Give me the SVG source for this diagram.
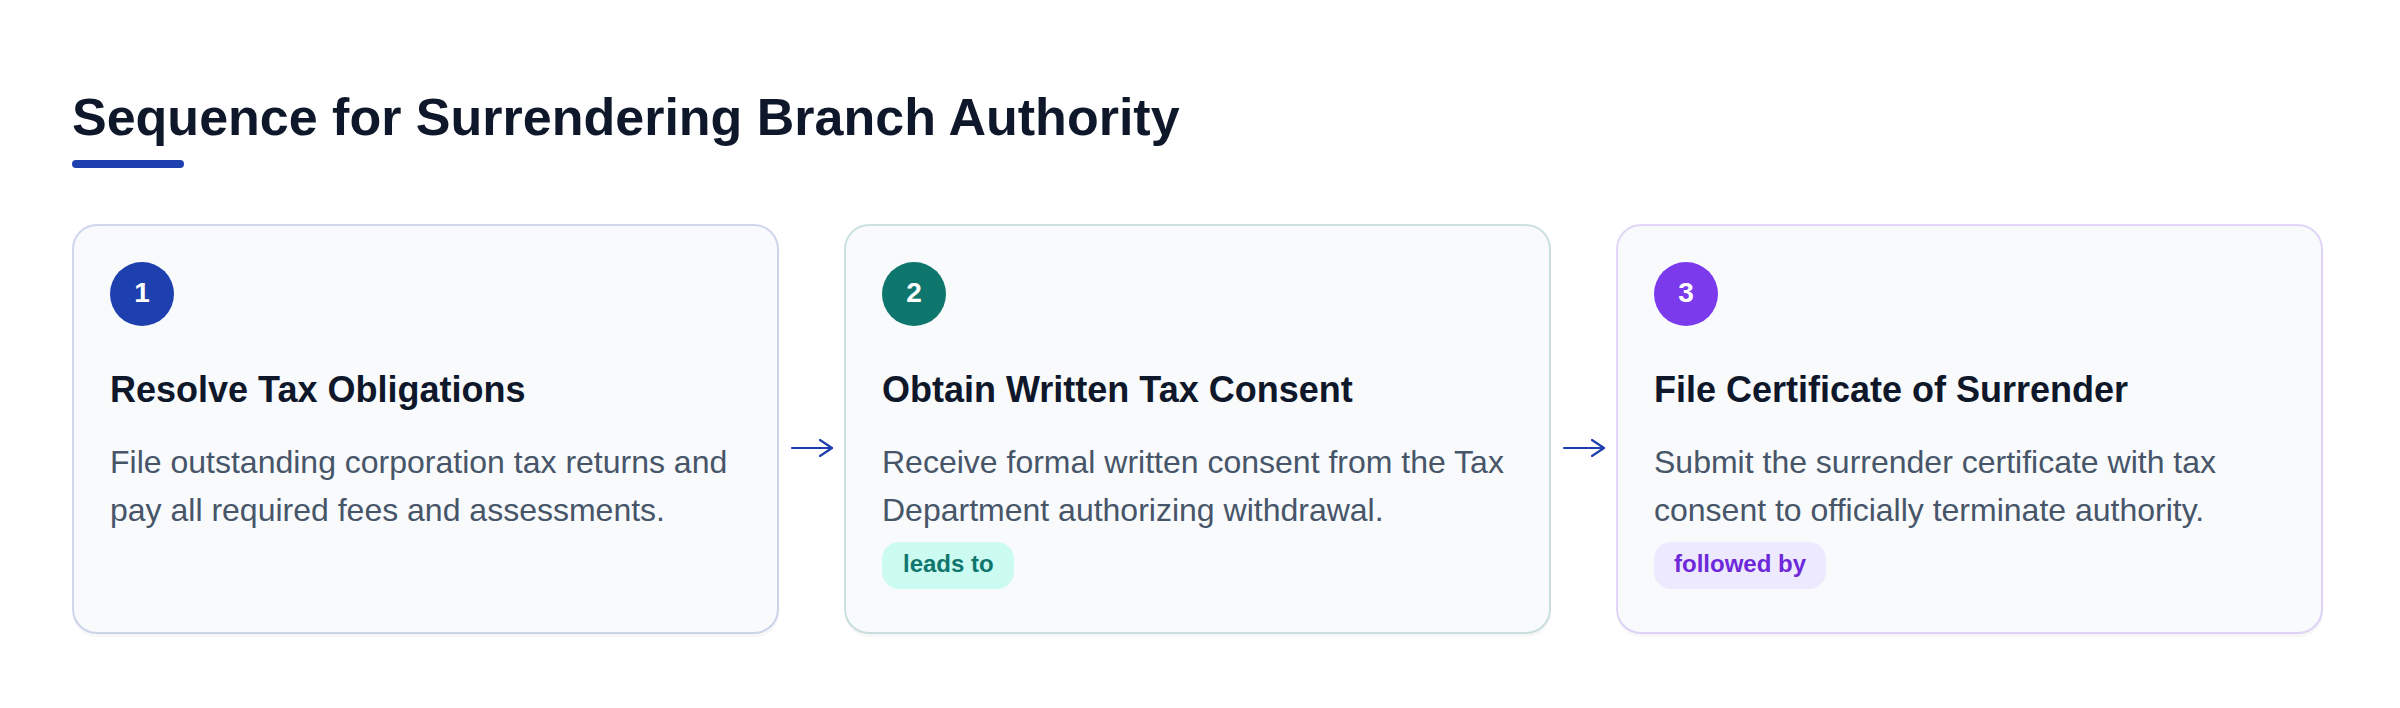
<svg xmlns="http://www.w3.org/2000/svg" width="2400" height="708" viewBox="0 0 2400 708">
  <style>
    .title { font-family: "Liberation Sans", Arial, sans-serif; font-weight: 700; font-size: 52px; fill: #0f172a; }
    .card { fill: #f8fafc; stroke-width: 2; }
    .shadow { fill: #0f172a; fill-opacity: 0.035; }
    .num { font-family: "Liberation Sans", Arial, sans-serif; font-weight: 700; font-size: 28px; fill: #ffffff; text-anchor: middle; }
    .head { font-family: "Liberation Sans", Arial, sans-serif; font-weight: 700; font-size: 36px; fill: #0f172a; }
    .desc { font-family: "Liberation Sans", Arial, sans-serif; font-size: 32px; fill: #475569; }
    .badge { font-family: "Liberation Sans", Arial, sans-serif; font-weight: 700; font-size: 24px; }
    .conn { fill: none; stroke: #1e40af; stroke-width: 2.2; stroke-linecap: round; stroke-linejoin: round; }
  </style>
  <defs>
    <marker id="arrowhead" viewBox="0 0 14 18" refX="13" refY="9" markerWidth="14" markerHeight="18" markerUnits="userSpaceOnUse" orient="auto">
      <path d="M1,1 L13,9 L1,17" fill="none" stroke="#1e40af" stroke-width="2.2" stroke-linecap="round" stroke-linejoin="round"/>
    </marker>
  </defs>
  <rect width="2400" height="708" fill="#ffffff"/>

  <g id="header">
    <text class="title" x="72" y="135">Sequence for Surrendering Branch Authority</text>
    <rect x="72" y="160" width="112" height="8" rx="4" fill="#1e40af"/>
  </g>

  <g id="step1">
    <rect class="shadow" x="73" y="227" width="706" height="410" rx="24"/>
    <rect class="card" x="73" y="225" width="705" height="408" rx="24" stroke="#1e40af" stroke-opacity="0.2"/>
    <circle cx="142" cy="294" r="32" fill="#1e40af"/>
    <text class="num" x="142" y="302">1</text>
    <text class="head" x="110" y="402">Resolve Tax Obligations</text>
    <text class="desc" x="110" y="473">File outstanding corporation tax returns and</text>
    <text class="desc" x="110" y="521">pay all required fees and assessments.</text>
  </g>

  <g id="step2">
    <rect class="shadow" x="845" y="227" width="706" height="410" rx="24"/>
    <rect class="card" x="845" y="225" width="705" height="408" rx="24" stroke="#0f766e" stroke-opacity="0.2"/>
    <circle cx="914" cy="294" r="32" fill="#0f766e"/>
    <text class="num" x="914" y="302">2</text>
    <text class="head" x="882" y="402">Obtain Written Tax Consent</text>
    <text class="desc" x="882" y="473">Receive formal written consent from the Tax</text>
    <text class="desc" x="882" y="521">Department authorizing withdrawal.</text>
    <rect x="882" y="542" width="132" height="47" rx="17" fill="#ccfbf1"/>
    <text class="badge" x="903" y="572" fill="#0f766e">leads to</text>
  </g>

  <g id="step3">
    <rect class="shadow" x="1617" y="227" width="706" height="410" rx="24"/>
    <rect class="card" x="1617" y="225" width="705" height="408" rx="24" stroke="#7c3aed" stroke-opacity="0.2"/>
    <circle cx="1686" cy="294" r="32" fill="#7c3aed"/>
    <text class="num" x="1686" y="302">3</text>
    <text class="head" x="1654" y="402">File Certificate of Surrender</text>
    <text class="desc" x="1654" y="473">Submit the surrender certificate with tax</text>
    <text class="desc" x="1654" y="521">consent to officially terminate authority.</text>
    <rect x="1654" y="542" width="172" height="47" rx="17" fill="#ede9fe"/>
    <text class="badge" x="1674" y="572" fill="#6d28d9">followed by</text>
  </g>

  <g id="connectors">
    <path class="conn" d="M792,448 L832,448" marker-end="url(#arrowhead)"/>
    <path class="conn" d="M1564,448 L1604,448" marker-end="url(#arrowhead)"/>
  </g>
</svg>
